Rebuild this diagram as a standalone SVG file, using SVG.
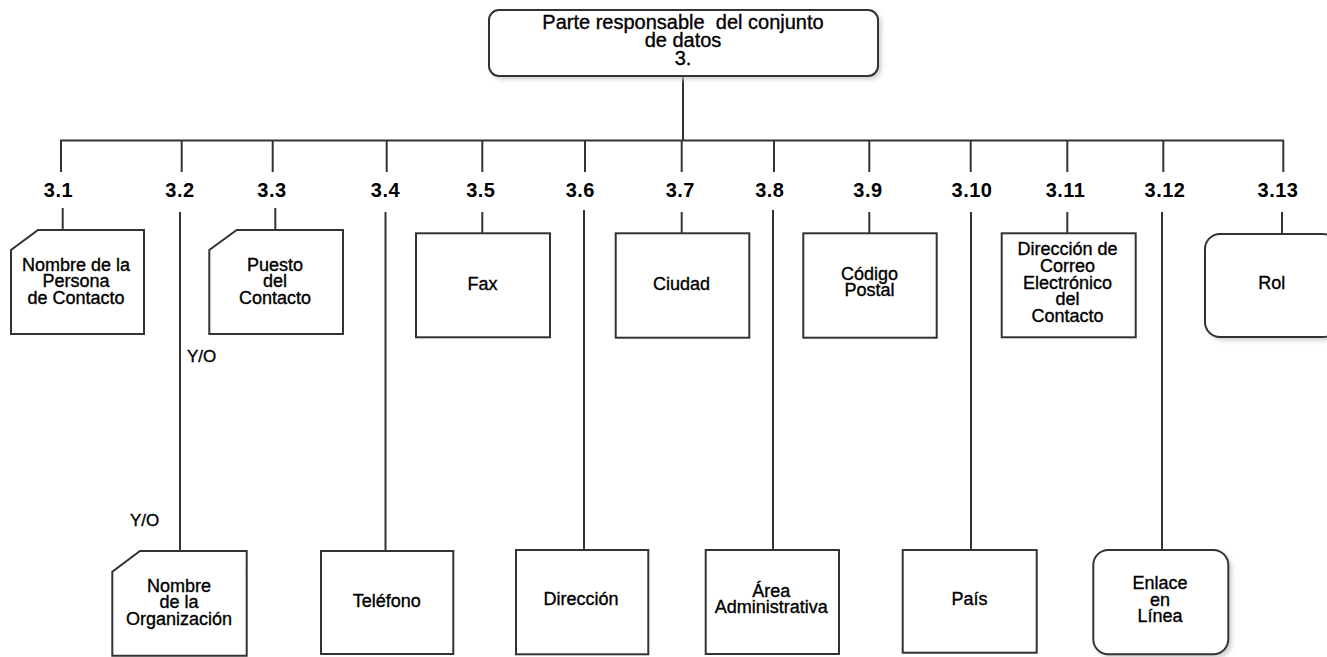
<svg xmlns="http://www.w3.org/2000/svg" width="1327" height="657" viewBox="0 0 1327 657">
<defs>
<filter id="sh" x="-10%" y="-10%" width="130%" height="140%">
<feGaussianBlur stdDeviation="2.5"/>
</filter>
</defs>
<style>
.b{fill:#fff;stroke:#333;stroke-width:2}
.s{fill:#c8c8c8;filter:url(#sh)}
.c line{stroke:#333;stroke-width:2}
text{font-family:"Liberation Sans",Arial,sans-serif;fill:#000}
.t{font-size:18px;text-anchor:middle;stroke:#000;stroke-width:0.35}
.h{font-size:20px;text-anchor:middle;stroke:#000;stroke-width:0.35}
.n{font-size:20px;font-weight:bold;text-anchor:middle;letter-spacing:0.5px}
.yo{font-size:17px;stroke:#000;stroke-width:0.35}
</style>
<rect width="1327" height="657" fill="#fff"/>
<g id="connectors" class="c">
<line x1="683" y1="76" x2="683" y2="140.5"/>
<line x1="60" y1="140.5" x2="1284" y2="140.5"/>
<line x1="61" y1="140.5" x2="61" y2="172"/>
<line x1="181.7" y1="140.5" x2="181.7" y2="172"/>
<line x1="272.7" y1="140.5" x2="272.7" y2="172"/>
<line x1="386.7" y1="140.5" x2="386.7" y2="172"/>
<line x1="482.3" y1="140.5" x2="482.3" y2="172"/>
<line x1="585" y1="140.5" x2="585" y2="172"/>
<line x1="681.7" y1="140.5" x2="681.7" y2="172"/>
<line x1="774" y1="140.5" x2="774" y2="172"/>
<line x1="869.3" y1="140.5" x2="869.3" y2="172"/>
<line x1="970.7" y1="140.5" x2="970.7" y2="172"/>
<line x1="1067.3" y1="140.5" x2="1067.3" y2="172"/>
<line x1="1163.3" y1="140.5" x2="1163.3" y2="172"/>
<line x1="1283.3" y1="140.5" x2="1283.3" y2="172"/>
<line x1="62.7" y1="208" x2="62.7" y2="230"/>
<line x1="180" y1="212" x2="180" y2="551"/>
<line x1="275.3" y1="208" x2="275.3" y2="230"/>
<line x1="385.5" y1="212" x2="385.5" y2="551"/>
<line x1="482.3" y1="212" x2="482.3" y2="233.3"/>
<line x1="584" y1="210" x2="584" y2="550"/>
<line x1="681.7" y1="212" x2="681.7" y2="233.3"/>
<line x1="773" y1="210" x2="773" y2="550"/>
<line x1="869.3" y1="212" x2="869.3" y2="233.3"/>
<line x1="971" y1="212" x2="971" y2="550"/>
<line x1="1067.3" y1="212" x2="1067.3" y2="233.3"/>
<line x1="1162" y1="212" x2="1162" y2="550"/>
<line x1="1282" y1="212" x2="1282" y2="234"/>
</g>
<g id="labels">
<text class="n" x="58.5" y="196.5">3.1</text>
<text class="n" x="180" y="196.5">3.2</text>
<text class="n" x="272" y="196.5">3.3</text>
<text class="n" x="385.5" y="196.5">3.4</text>
<text class="n" x="480.8" y="196.5">3.5</text>
<text class="n" x="580.3" y="196.5">3.6</text>
<text class="n" x="680.3" y="196.5">3.7</text>
<text class="n" x="769.8" y="196.5">3.8</text>
<text class="n" x="868" y="196.5">3.9</text>
<text class="n" x="972" y="196.5">3.10</text>
<text class="n" x="1065.6" y="196.5">3.11</text>
<text class="n" x="1165" y="196.5">3.12</text>
<text class="n" x="1278" y="196.5">3.13</text>
<text class="yo" x="187" y="361.7">Y/O</text>
<text class="yo" x="130" y="526">Y/O</text>
</g>
<g id="n3">
<rect class="s" x="492" y="13" width="389" height="66" rx="10"/>
<rect class="b" x="489" y="10" width="389" height="66" rx="10"/>
<text class="h" x="683" y="29" xml:space="preserve">Parte responsable  del conjunto</text>
<text class="h" x="683" y="47">de datos</text>
<text class="h" x="683" y="65">3.</text>
</g>
<g id="n3_1">
<polygon class="b" points="38,230 144,230 144,334 11,334 11,250"/>
<text class="t" x="76" y="270.7">Nombre de la</text>
<text class="t" x="76" y="287">Persona</text>
<text class="t" x="76" y="304">de Contacto</text>
</g>
<g id="n3_3">
<polygon class="b" points="236.7,230 343,230 343,334 209.3,334 209.3,250"/>
<text class="t" x="275" y="270.7">Puesto</text>
<text class="t" x="275" y="287">del</text>
<text class="t" x="275" y="304">Contacto</text>
</g>
<g id="n3_5">
<rect class="b" x="416" y="233.3" width="134" height="104"/>
<text class="t" x="482.5" y="290">Fax</text>
</g>
<g id="n3_7">
<rect class="b" x="615.7" y="233.3" width="133.6" height="104.4"/>
<text class="t" x="681.5" y="290">Ciudad</text>
</g>
<g id="n3_9">
<rect class="b" x="803.3" y="233.3" width="133.4" height="104.4"/>
<text class="t" x="869.5" y="280">Código</text>
<text class="t" x="869.5" y="296">Postal</text>
</g>
<g id="n3_11">
<rect class="b" x="1001.7" y="233.3" width="134" height="104"/>
<text class="t" x="1067.5" y="255.3">Dirección de</text>
<text class="t" x="1067.5" y="272">Correo</text>
<text class="t" x="1067.5" y="288.7">Electrónico</text>
<text class="t" x="1067.5" y="305.3">del</text>
<text class="t" x="1067.5" y="322">Contacto</text>
</g>
<g id="n3_13">
<rect class="s" x="1208" y="237" width="133" height="103" rx="15"/>
<rect class="b" x="1205" y="234" width="133" height="103" rx="15"/>
<text class="t" x="1271.7" y="289">Rol</text>
</g>
<g id="n3_2">
<polygon class="b" points="140,551 246.7,551 246.7,655.7 112.3,655.7 112.3,571.7"/>
<text class="t" x="179" y="591.7">Nombre</text>
<text class="t" x="179" y="608">de la</text>
<text class="t" x="179" y="625">Organización</text>
</g>
<g id="n3_4">
<rect class="b" x="321" y="551" width="132.3" height="103"/>
<text class="t" x="386.7" y="606.7">Teléfono</text>
</g>
<g id="n3_6">
<rect class="b" x="516" y="550" width="132.3" height="104.3"/>
<text class="t" x="581" y="605">Dirección</text>
</g>
<g id="n3_8">
<rect class="b" x="705.7" y="550" width="133.3" height="104"/>
<text class="t" x="771.3" y="596.7">Área</text>
<text class="t" x="771.3" y="613.3">Administrativa</text>
</g>
<g id="n3_10">
<rect class="b" x="902.7" y="550" width="134" height="102.7"/>
<text class="t" x="969.5" y="605">País</text>
</g>
<g id="n3_12">
<rect class="s" x="1096.3" y="553" width="135" height="104.3" rx="15"/>
<rect class="b" x="1093.3" y="550" width="135" height="104.3" rx="15"/>
<text class="t" x="1160" y="589.3">Enlace</text>
<text class="t" x="1160" y="605.7">en</text>
<text class="t" x="1160" y="621.7">Línea</text>
</g>
</svg>
